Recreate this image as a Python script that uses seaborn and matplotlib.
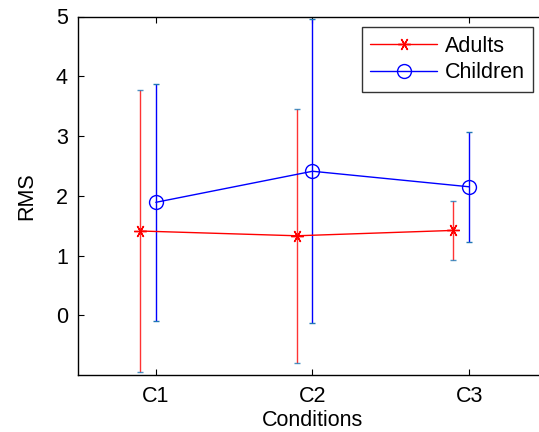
import numpy as np
import pandas as pd
import matplotlib
matplotlib.use("Agg")
import matplotlib.pyplot as plt
import seaborn as sns

# values
conditions = ["C1", "C2", "C3"]
adults_mean = [1.41, 1.33, 1.42]
adults_err = [2.36, 2.13, 0.50]
children_mean = [1.89, 2.41, 2.15]
children_err = [1.98, 2.54, 0.92]

sns.set_style("ticks")
plt.rcParams["font.family"] = ["Liberation Sans", "DejaVu Sans"]
plt.rcParams["text.color"] = "black"
plt.rcParams["axes.labelcolor"] = "black"
plt.rcParams["xtick.color"] = "black"
plt.rcParams["ytick.color"] = "black"

pos = np.arange(1, len(conditions) + 1)
adults = pd.DataFrame({"x": pos - 0.1, "RMS": adults_mean})
children = pd.DataFrame({"x": pos, "RMS": children_mean})

fig = plt.figure(figsize=(5.39, 4.32), dpi=100)
ax = fig.add_axes([77.5 / 539, 1 - 375 / 432, 470 / 539, 358.5 / 432])

# error bars first
ax.errorbar(pos - 0.1, adults_mean, yerr=adults_err, fmt="none",
            ecolor="red", elinewidth=1.0, capsize=2.5, capthick=1.0, alpha=0.8)
ax.errorbar(pos, children_mean, yerr=children_err, fmt="none",
            ecolor="blue", elinewidth=1.0, capsize=2.5, capthick=1.0)

sns.lineplot(data=adults, x="x", y="RMS", color="red", marker=(6, 2, 90),
             markersize=9, markeredgewidth=1.0, linewidth=1.0,
             label="Adults", ax=ax)
sns.lineplot(data=children, x="x", y="RMS", color="blue", marker="o",
             markersize=10, markeredgewidth=1.0, markerfacecolor="none",
             linewidth=1.0, label="Children", ax=ax)
for line in ax.get_lines():
    line.set_markerfacecolor("none")
    line.set_markeredgecolor(line.get_color())

fs = 15.5
ax.set_xlim(0.5, 3.5)
ax.set_ylim(-1, 5)
ax.set_xticks(pos)
ax.set_xticklabels(conditions)
ax.set_yticks(range(0, 6))
ax.set_xlabel("Conditions", fontsize=fs, labelpad=2)
ax.set_ylabel("RMS", fontsize=fs, labelpad=13)
ax.tick_params(direction="in", length=4, width=0.8, labelsize=fs,
               top=True, right=True)
ax.tick_params(axis="x", pad=8)
ax.tick_params(axis="y", pad=7)
for s in ax.spines.values():
    s.set_linewidth(1.0)
    s.set_color("black")

h, l = ax.get_legend_handles_labels()
for hh in h:
    hh.set_markerfacecolor("none")
    hh.set_markeredgecolor(hh.get_color())
leg = ax.legend(h, l, loc="upper left", bbox_to_anchor=(361.7 / 539, 1 - 27.3 / 432),
                bbox_transform=fig.transFigure,
                fontsize=fs, frameon=True, fancybox=False, borderaxespad=0,
                handlelength=3.1, handletextpad=0.35, labelspacing=0.25,
                borderpad=0.4)
leg.get_frame().set_edgecolor("black")
leg.get_frame().set_linewidth(1.0)

fig.savefig("out.png", dpi=100)
